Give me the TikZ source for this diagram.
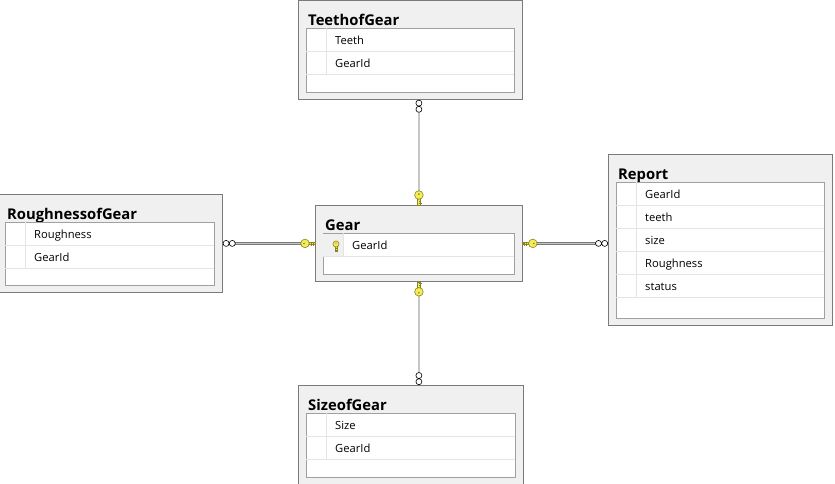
\documentclass[tikz,border=0pt]{standalone}
\usepackage{fontspec}
\setmainfont{Open Sans}
\usetikzlibrary{calc}

\definecolor{boxgray}{HTML}{F0F0F0}
\definecolor{edgegray}{HTML}{7A7A7A}
\definecolor{innergray}{HTML}{A0A0A0}
\definecolor{rowgray}{HTML}{E4E4E4}
\definecolor{keyyellow}{HTML}{F4EC5A}
\definecolor{keyedge}{HTML}{8A8420}

\tikzset{
  keyend/.pic={
    \fill[keyyellow, draw=keyedge, line width=.5pt] (0,-1.2) rectangle (7,1.2);
    \draw[keyedge, line width=.8pt] (1.5,0) -- (1.5,3) (3.8,0) -- (3.8,2.5);
    \filldraw[fill=keyyellow, draw=keyedge, line width=.6pt] (10,0) circle (4.3);
    \fill[keyedge] (11,0) circle (.9);
  },
  manyend/.pic={
    \filldraw[fill=white, draw=black, line width=.6pt] (3.3,0) circle (3) (9.5,0) circle (3);
  }
}

% name, x, y, width, height, title, fields
\newcommand\dbtable[7]{%
  \node[tablebox, minimum width=#4pt, minimum height=#5pt] (#1) at (#2,#3) {};
  \node[tabletitle] (#1-title) at (#2+10,#3+25) {#6};
  \filldraw[fill=white, draw=innergray] (#2+8,#3+28) rectangle (#2+#4-8,#3+#5-7);
  \foreach \fld [count=\i] in {#7} {
    \draw[rowgray] (#2+8,#3+28+23*\i) -- ++(#4-16,0);
    \draw[rowgray] (#2+28,#3+5+23*\i) -- ++(0,23);
    \node[fieldtext] at (#2+37,#3+21+23*\i) {\fld};
  }
}

\begin{document}
\begin{tikzpicture}[x=1pt, y=-1pt,
    tablebox/.style={draw=edgegray, fill=boxgray, line width=.8pt, inner sep=0pt, anchor=north west},
    tabletitle/.style={anchor=base west, inner sep=0pt, font=\fontsize{14.8}{16}\selectfont\bfseries},
    fieldtext/.style={anchor=base west, inner sep=0pt, font=\fontsize{11.2}{13}\selectfont},
    relation/.style={draw=gray!95!black, double=gray!45, double distance=1.2pt, line width=.8pt}]
  \useasboundingbox (0,0) rectangle (835,483);
  \clip (0,0) rectangle (835,483);

  \dbtable{teeth}{298}{0}{224}{99}{TeethofGear}{Teeth,GearId}
  \dbtable{gear}{315}{205}{207}{76}{Gear}{GearId}
  \dbtable{rough}{-3}{194}{225}{98}{RoughnessofGear}{Roughness,GearId}
  \dbtable{report}{608}{154}{224}{171}{Report}{GearId,teeth,size,Roughness,status}
  \dbtable{size}{298}{385}{225}{99}{SizeofGear}{Size,GearId}

  % key of the Gear field
  \fill[gray!12] (323,234) rectangle (343,255.5);
  \pic[rotate=90, scale=.7] at (336,251) {keyend};

  % relations
  \draw[relation] (gear.north) -- (gear.north |- teeth.south);
  \draw[relation] (gear.south) -- (gear.south |- size.north);
  \draw[relation] (gear.west) -- (gear.west -| rough.east);
  \draw[relation] (gear.east) -- (gear.east -| report.west);

  \pic[rotate=90] at (gear.north) {keyend};
  \pic[rotate=-90, yscale=-1] at (gear.south) {keyend};
  \pic[rotate=180, yscale=-1] at (gear.west) {keyend};
  \pic at (gear.east) {keyend};

  \pic[rotate=-90] at (gear.north |- teeth.south) {manyend};
  \pic[rotate=90] at (gear.south |- size.north) {manyend};
  \pic at (gear.west -| rough.east) {manyend};
  \pic[rotate=180] at (gear.east -| report.west) {manyend};
\end{tikzpicture}
\end{document}
